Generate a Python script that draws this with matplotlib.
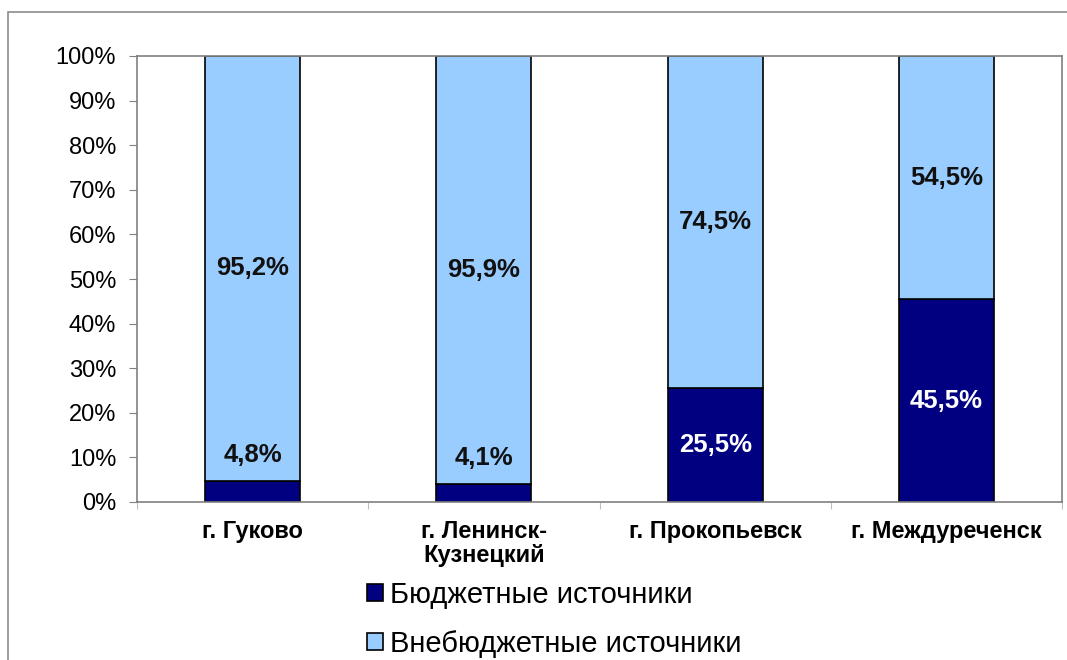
import matplotlib
matplotlib.use("Agg")
import matplotlib.pyplot as plt
from matplotlib.patches import Rectangle, Patch

plt.rcParams['font.family'] = ['Liberation Sans', 'DejaVu Sans']

cities = ["г. Гуково", "г. Ленинск-\nКузнецкий", "г. Прокопьевск", "г. Междуреченск"]
budget = [4.8, 4.1, 25.5, 45.5]
extra_budget = [95.2, 95.9, 74.5, 54.5]
series_names = ["Бюджетные источники", "Внебюджетные источники"]
y_ticks = [0, 10, 20, 30, 40, 50, 60, 70, 80, 90, 100]

dark = "#000080"
light = "#99CCFF"

fig = plt.figure(figsize=(10.67, 6.6), dpi=100)
fig.patch.set_facecolor("white")

# outer chart frame
fig.patches.append(Rectangle((8 / 1067, -0.1), 1.2, (660 - 12) / 660 + 0.1,
                             transform=fig.transFigure, fill=False,
                             edgecolor="#8c8c8c", linewidth=1.2))

ax = fig.add_axes([137 / 1067, (660 - 502) / 660, (1062 - 137) / 1067, (502 - 56) / 660])

x = list(range(len(cities)))
width = 0.41
ax.bar(x, budget, width, color=dark, edgecolor="black", linewidth=1.2, label=series_names[0])
ax.bar(x, extra_budget, width, bottom=budget, color=light, edgecolor="black",
       linewidth=1.2, label=series_names[1])


def fmt(v):
    return f"{v:.1f}%".replace(".", ",")


for i in x:
    b = budget[i]
    e = extra_budget[i]
    # budget share label: inside the dark segment if it is tall enough
    if b >= 15:
        ax.text(i, b / 2, fmt(b), ha="center", va="center", color="white",
                fontsize=18.5, fontweight="bold")
    else:
        ax.text(i, b + 5.7, fmt(b), ha="center", va="center", color="#111111",
                fontsize=18.5, fontweight="bold")
    ax.text(i, b + e / 2, fmt(e), ha="center", va="center", color="#111111",
            fontsize=18.5, fontweight="bold")

ax.set_xlim(-0.5, len(cities) - 0.5)
ax.set_ylim(0, 100)
ax.set_yticks(y_ticks)
ax.set_yticklabels([f"{t}%" for t in y_ticks], fontsize=17)
ax.tick_params(axis="y", direction="out", length=6, color="#808080", pad=9)

ax.set_xticks([i - 0.5 for i in range(len(cities) + 1)], minor=False)
ax.set_xticklabels([])
ax.tick_params(axis="x", direction="out", length=5, color="#c0c0c0")
ax.set_xticks(x, minor=True)
ax.set_xticklabels(cities, minor=True, fontsize=17, fontweight="bold",
                   va="top", linespacing=1.05)
ax.tick_params(axis="x", which="minor", length=0, pad=13)

for s in ax.spines.values():
    s.set_color("#808080")
    s.set_linewidth(1.2)

handles = [Patch(facecolor=dark, edgecolor="black", linewidth=1.2),
           Patch(facecolor=light, edgecolor="black", linewidth=1.2)]
fig.legend(handles, series_names, loc="upper left",
           bbox_to_anchor=(355 / 1067, (660 - 569) / 660), frameon=False,
           fontsize=21, handlelength=0.55, handleheight=0.55, handletextpad=0.25,
           labelspacing=0.72, borderaxespad=0)

fig.savefig("out.png", dpi=100)
